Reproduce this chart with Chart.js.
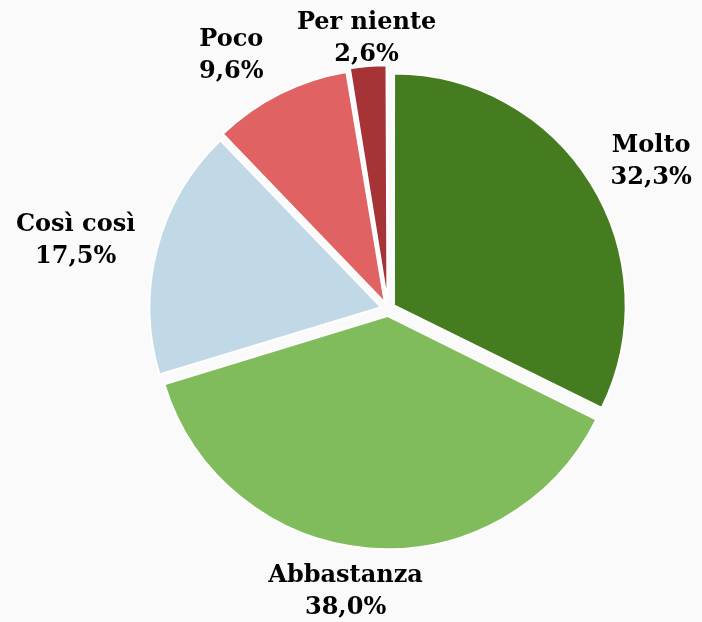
<!DOCTYPE html>
<html>
<head>
<meta charset="utf-8">
<script src="https://cdn.jsdelivr.net/npm/chart.js@4.4.1/dist/chart.umd.min.js"></script>
<style>
  html, body { margin: 0; padding: 0; background: #fafafa; }
  #wrap { width: 702px; height: 622px; }
</style>
</head>
<body>
<div id="wrap"><canvas id="pieChart" width="702" height="622"></canvas></div>
<script>
const labels = ["Molto", "Abbastanza", "Così così", "Poco", "Per niente"];
const values = [32.3, 38.0, 17.5, 9.6, 2.6];
const colors = ["#467c20", "#80bc5b", "#c1d9e6", "#e06262", "#a63336"];

// how far the slices are pulled out (chart.js draws offset / 4)
const sliceOffset = 7;
// where each label sits, relative to the outer middle point of its slice
const labelNudge = [[61, -23], [-23, 45], [-82, -9], [-50, -42], [-2, -34]];

const fmt = (v) => v.toFixed(1).replace(".", ",") + "%";

const outsideLabels = {
  id: "outsideLabels",
  afterDatasetsDraw(chart) {
    const ctx = chart.ctx;
    const meta = chart.getDatasetMeta(0);
    ctx.save();
    ctx.font = "bold 24px 'DejaVu Serif'";
    ctx.fillStyle = "#000000";
    ctx.textAlign = "center";
    ctx.textBaseline = "middle";
    meta.data.forEach((arc, i) => {
      const p = arc.getProps(["x", "y", "startAngle", "endAngle", "outerRadius"], true);
      const mid = (p.startAngle + p.endAngle) / 2;
      const r = p.outerRadius + sliceOffset;
      const x = p.x + Math.cos(mid) * r + labelNudge[i][0];
      const y = p.y + Math.sin(mid) * r + labelNudge[i][1];
      ctx.fillText(labels[i], x, y - 15);
      ctx.fillText(fmt(values[i]), x, y + 17);
    });
    ctx.restore();
  }
};

new Chart(document.getElementById("pieChart").getContext("2d"), {
  type: "pie",
  data: {
    labels: labels,
    datasets: [
      {
        data: values,
        backgroundColor: colors,
        borderColor: "#ffffff",
        borderWidth: 2,
        offset: sliceOffset * 4,
        hoverOffset: 0,
      },
    ],
  },
  options: {
    responsive: false,
    animation: false,
    radius: 231,
    layout: { padding: { left: 74, right: 0, top: 0, bottom: 4 } },
    plugins: {
      legend: { display: false },
      tooltip: { enabled: false },
    },
  },
  plugins: [outsideLabels],
});
</script>
</body>
</html>
